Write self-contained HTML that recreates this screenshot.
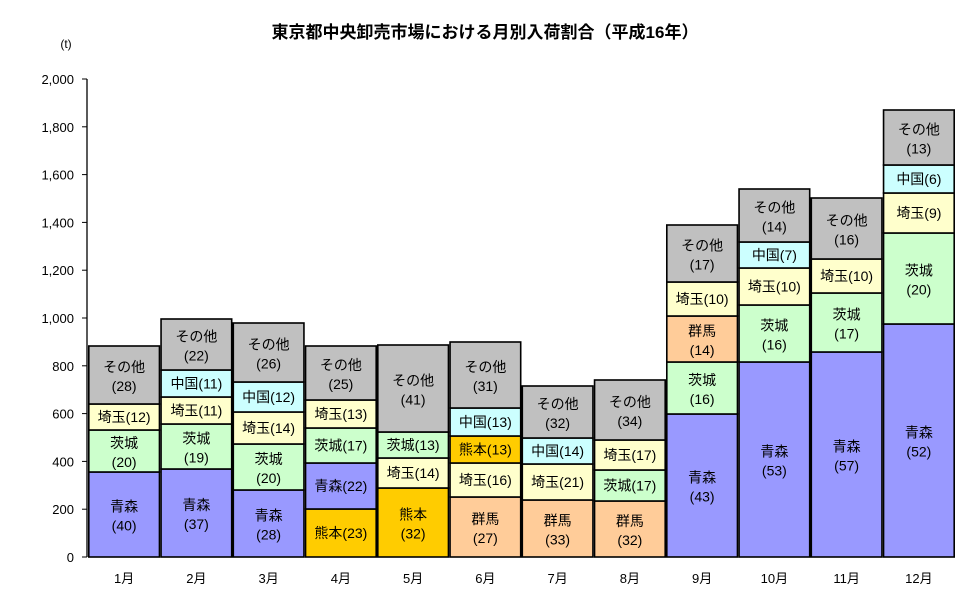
<!DOCTYPE html>
<html><head><meta charset="utf-8"><style>
body{margin:0;background:#fff}
svg text{font-family:"Liberation Sans","Noto Sans CJK JP",sans-serif;fill:#000}
</style></head><body>
<svg id="s" width="970" height="604" xmlns="http://www.w3.org/2000/svg">
<text x="485" y="38" text-anchor="middle" font-size="17" font-weight="bold">東京都中央卸売市場における月別入荷割合（平成16年）</text>
<text x="66" y="48" text-anchor="middle" font-size="12">(t)</text>
</svg>
<script>
var C={A:'#9999ff',I:'#ccffcc',S:'#ffffcc',C:'#ccffff',O:'#c0c0c0',K:'#ffcc00',G:'#ffcc99'};
// each bar: list of [bottomTop y, color, label] from bottom up; tops given
var bars=[
[[472,'A','青森|(40)'],[430,'I','茨城|(20)'],[404,'S','埼玉(12)'],[346,'O','その他|(28)']],
[[469,'A','青森|(37)'],[424,'I','茨城|(19)'],[397,'S','埼玉(11)'],[370,'C','中国(11)'],[319,'O','その他|(22)']],
[[490,'A','青森|(28)'],[444,'I','茨城|(20)'],[412,'S','埼玉(14)'],[382,'C','中国(12)'],[323,'O','その他|(26)']],
[[509,'K','熊本(23)'],[463,'A','青森(22)'],[428,'I','茨城(17)'],[400,'S','埼玉(13)'],[346,'O','その他|(25)']],
[[488,'K','熊本|(32)'],[458,'S','埼玉(14)'],[432,'I','茨城(13)'],[345,'O','その他|(41)']],
[[497,'G','群馬|(27)'],[463,'S','埼玉(16)'],[436,'K','熊本(13)'],[408,'C','中国(13)'],[342,'O','その他|(31)']],
[[500,'G','群馬|(33)'],[464,'S','埼玉(21)'],[438,'C','中国(14)'],[386,'O','その他|(32)']],
[[501,'G','群馬|(32)'],[470,'I','茨城(17)'],[440,'S','埼玉(17)'],[380,'O','その他|(34)']],
[[414,'A','青森|(43)'],[362,'I','茨城|(16)'],[316,'G','群馬|(14)'],[282,'S','埼玉(10)'],[225,'O','その他|(17)']],
[[362,'A','青森|(53)'],[305,'I','茨城|(16)'],[268,'S','埼玉(10)'],[242,'C','中国(7)'],[189,'O','その他|(14)']],
[[352,'A','青森|(57)'],[293,'I','茨城|(17)'],[259,'S','埼玉(10)'],[198,'O','その他|(16)']],
[[324,'A','青森|(52)'],[233,'I','茨城|(20)'],[193,'S','埼玉(9)'],[165,'C','中国(6)'],[110,'O','その他|(13)']]
];
var h='',x0=88,w=72.25,base=557;
bars.forEach(function(b,i){
 var x=x0+i*w,bot=base;
 b.forEach(function(sg){
  var t=sg[0];
  h+='<rect x="'+(x+0.8)+'" y="'+t+'" width="'+(w-1.6)+'" height="'+(bot-t)+'" fill="'+C[sg[1]]+'" stroke="#000" stroke-width="1.6"/>';
  var cx=x+w/2,cy=(t+bot)/2,L=sg[2].split('|');
  if(L.length==1)h+='<text x="'+cx+'" y="'+(cy+5)+'" text-anchor="middle" font-size="14">'+L[0]+'</text>';
  else{h+='<text x="'+cx+'" y="'+(cy-3)+'" text-anchor="middle" font-size="14">'+L[0]+'</text><text x="'+cx+'" y="'+(cy+16)+'" text-anchor="middle" font-size="14">'+L[1]+'</text>';}
  bot=t;
 });
 h+='<text x="'+(x+w/2)+'" y="583" text-anchor="middle" font-size="13">'+(i+1)+'月</text>';
});
h+='<line x1="87" y1="79" x2="87" y2="557" stroke="#000" stroke-width="1.3"/>';
for(var v=0;v<=2000;v+=200){var y=557-v*0.239;
 h+='<line x1="82" y1="'+y+'" x2="87" y2="'+y+'" stroke="#000"/>';
 h+='<text x="74" y="'+(y+5)+'" text-anchor="end" font-size="13">'+(v>=1000?Math.floor(v/1000)+','+String(v%1000).padStart(3,'0'):v)+'</text>';}
document.getElementById('s').insertAdjacentHTML('beforeend',h);
</script>
</body></html>
